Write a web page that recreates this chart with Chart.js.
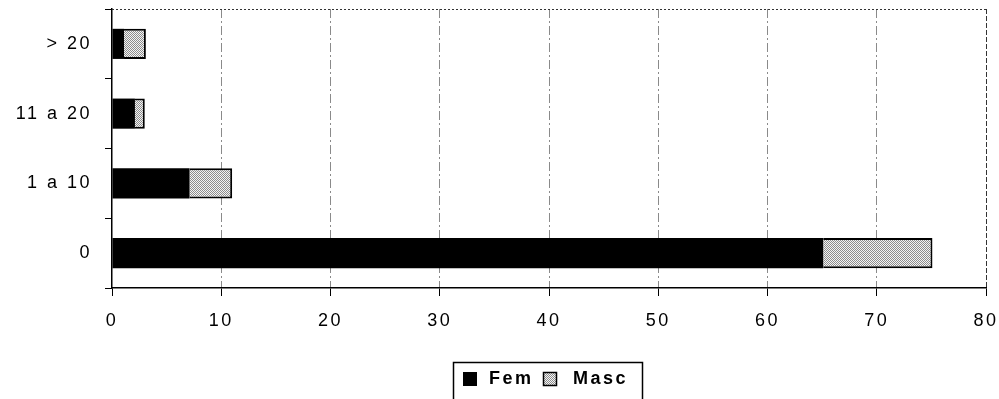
<!DOCTYPE html>
<html>
<head>
<meta charset="utf-8">
<script src="https://cdn.jsdelivr.net/npm/chart.js@4/dist/chart.umd.min.js"></script>
<style>
  html, body { margin: 0; padding: 0; background: #fff; }
  #wrap { width: 999px; height: 399px; position: relative; }
</style>
</head>
<body>
<div id="wrap"><canvas id="c" width="999" height="399"></canvas></div>
<script>
// Categories (top to bottom) and stacked series values
const categories = ['> 20', '11 a 20', '1 a 10', '0'];
const femValues  = [1.1, 2.1, 7.1, 65.1];
const mascValues = [2.0, 0.9, 3.9, 10.0];
const seriesNames = ['Fem', 'Masc'];
const xTicks = [0, 10, 20, 30, 40, 50, 60, 70, 80];

// Stippled fill for the second series
function stipple() {
  const p = document.createElement('canvas');
  p.width = 2; p.height = 2;
  const g = p.getContext('2d');
  g.fillStyle = '#f4f4f4'; g.fillRect(0, 0, 2, 2);
  g.fillStyle = '#8c8c8c';
  g.fillRect(0, 0, 1, 1);
  g.fillRect(1, 1, 1, 1);
  return g.createPattern(p, 'repeat');
}
const mascFill = stipple();

const FONT = "'Liberation Sans', Arial, sans-serif";

// Wide letter spacing for all axis text
const spacing = {
  id: 'spacing',
  beforeDraw(chart) {
    if ('letterSpacing' in chart.ctx) chart.ctx.letterSpacing = '2.5px';
  }
};

// Dotted top edge and dashed right edge of the plot frame
const frame = {
  id: 'frame',
  afterDatasetsDraw(chart) {
    const { ctx, chartArea: a } = chart;
    ctx.save();
    ctx.strokeStyle = '#333';
    ctx.lineWidth = 1;
    ctx.setLineDash([2, 2]);
    ctx.beginPath();
    ctx.moveTo(a.left, a.top + 0.5); ctx.lineTo(a.right, a.top + 0.5);
    ctx.stroke();
    ctx.setLineDash([5, 2]);
    ctx.beginPath();
    ctx.moveTo(a.right + 0.5, a.top); ctx.lineTo(a.right + 0.5, a.bottom);
    ctx.stroke();
    ctx.restore();
  }
};

// Boxed legend below the axis
const boxLegend = {
  id: 'boxLegend',
  afterDraw(chart) {
    const { ctx } = chart;
    const ds = chart.data.datasets;
    ctx.save();
    ctx.strokeStyle = '#000';
    ctx.lineWidth = 1.5;
    ctx.strokeRect(453.5, 362.5, 189, 40);
    ctx.font = 'bold 18px ' + FONT;
    ctx.textBaseline = 'middle';
    if ('letterSpacing' in ctx) ctx.letterSpacing = '2.5px';
    const items = [{ x: 463, tx: 489 }, { x: 543, tx: 573 }];
    ds.forEach((d, i) => {
      const it = items[i];
      ctx.fillStyle = d.backgroundColor;
      ctx.fillRect(it.x, 372, 14, 14);
      if (i === 1) {
        ctx.lineWidth = 1.5;
        ctx.strokeStyle = '#000';
        ctx.strokeRect(it.x + 0.5, 372.5, 13, 13);
      }
      ctx.fillStyle = '#000';
      ctx.fillText(d.label, it.tx, 379);
    });
    ctx.restore();
  }
};

new Chart(document.getElementById('c'), {
  type: 'bar',
  data: {
    labels: categories,
    datasets: [
      { label: seriesNames[0], data: femValues, backgroundColor: '#000', borderWidth: 0,
        categoryPercentage: 0.8, barPercentage: 0.54 },
      { label: seriesNames[1], data: mascValues, backgroundColor: mascFill,
        borderColor: '#000', borderWidth: 2, borderSkipped: 'left',
        categoryPercentage: 0.8, barPercentage: 0.54 }
    ]
  },
  options: {
    indexAxis: 'y',
    responsive: false,
    animation: false,
    devicePixelRatio: 1,
    layout: { padding: { left: 0, right: 13, top: 9, bottom: 71 } },
    plugins: { legend: { display: false }, tooltip: { enabled: false } },
    scales: {
      x: {
        stacked: true,
        min: 0, max: 80,
        afterBuildTicks(s) { s.ticks = xTicks.map(v => ({ value: v })); },
        afterFit(s) { s.height = 40; s.paddingLeft = 0; s.paddingRight = 0; },
        ticks: { color: '#000', padding: 14, font: { family: FONT, size: 18 }, maxRotation: 0 },
        grid: {
          color: (c) => (c.tick && (c.tick.value === 0 || c.tick.value === 80)) ? 'rgba(0,0,0,0)' : '#8a8a8a',
          tickColor: '#000', tickLength: 8, lineWidth: 1
        },
        border: { display: true, color: '#000', width: 1.5, dash: [9, 3, 2, 3] }
      },
      y: {
        stacked: true,
        afterFit(s) { s.width = 112; s.paddingTop = 0; s.paddingBottom = 0; },
        ticks: { color: '#000', padding: 13, font: { family: FONT, size: 18 } },
        grid: { offset: true, drawOnChartArea: false, color: '#000', tickLength: 7 },
        border: { display: true, color: '#000', width: 1.5 }
      }
    }
  },
  plugins: [spacing, frame, boxLegend]
});
</script>
</body>
</html>
